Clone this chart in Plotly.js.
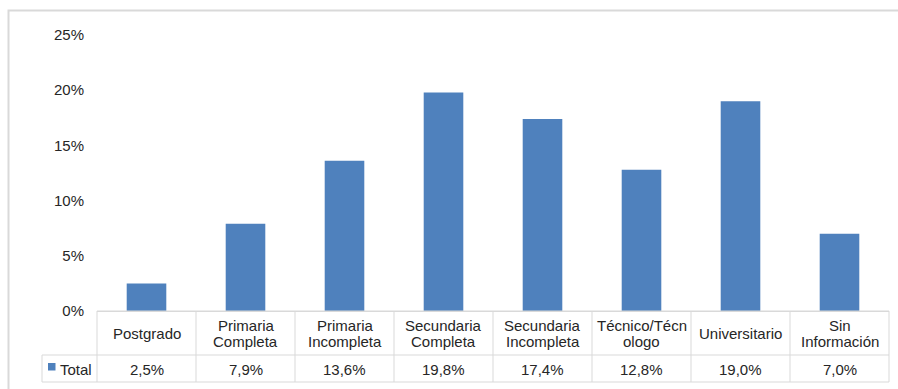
<!DOCTYPE html>
<html>
<head>
<meta charset="utf-8">
<script src="https://cdn.plot.ly/plotly-3.0.1.min.js"></script>
<style>
html,body{margin:0;padding:0;background:#fff;}
#chart{width:898px;height:389px;}
</style>
</head>
<body>
<div id="chart"></div>
<script>
// ---- data ----
const categories = ["Postgrado", "Primaria<br>Completa", "Primaria<br>Incompleta", "Secundaria<br>Completa",
  "Secundaria<br>Incompleta", "Técnico/Técn<br>ologo", "Universitario", "Sin<br>Información"];
const values = [0.025, 0.079, 0.136, 0.198, 0.174, 0.128, 0.190, 0.070];
const seriesName = "Total";
const yTickVals = [0, 0.05, 0.10, 0.15, 0.20, 0.25];
const yTickText = ["0%", "5%", "10%", "15%", "20%", "25%"];

// ---- layout helpers ----
const W = 898, H = 389;
const M = {l: 97, r: 9, t: 35, b: 78};
const PW = W - M.l - M.r, PH = H - M.t - M.b;
const px2x = p => (p - M.l) / PW;
const py2y = p => (H - M.b - p) / PH;
const font = "Liberation Sans, Arial, sans-serif";
const txtColor = "#262626";
const gridC = "#D9D9D9";
const barColor = "#4F81BD";
const fmt = v => (v * 100).toFixed(1).replace('.', ',') + '%';

const n = categories.length;
const shapes = [];
const annotations = [];

// outer border
shapes.push({type: 'rect', xref: 'paper', yref: 'paper', x0: px2x(8.5), x1: px2x(905), y0: py2y(395), y1: py2y(10.5),
  line: {color: gridC, width: 2}, fillcolor: 'rgba(0,0,0,0)'});

// table lines
const rowTop = 311, rowMid = 355, rowBot = 382, legLeft = 42;
[[M.l, rowTop], [legLeft, rowMid], [legLeft, rowBot]].forEach(([x0, y]) => {
  shapes.push({type: 'line', xref: 'paper', yref: 'paper', x0: px2x(x0), x1: 1, y0: py2y(y), y1: py2y(y),
    line: {color: gridC, width: 1}});
});
for (let i = 0; i <= n; i++) {
  shapes.push({type: 'line', xref: 'paper', yref: 'paper', x0: i / n, x1: i / n, y0: py2y(rowTop), y1: py2y(rowBot),
    line: {color: gridC, width: 1}});
}
shapes.push({type: 'line', xref: 'paper', yref: 'paper', x0: px2x(legLeft), x1: px2x(legLeft), y0: py2y(rowMid), y1: py2y(rowBot),
  line: {color: gridC, width: 1}});
// legend key
shapes.push({type: 'rect', xref: 'paper', yref: 'paper', x0: px2x(48), x1: px2x(55.5), y0: py2y(370.5), y1: py2y(363),
  line: {width: 0}, fillcolor: barColor});
annotations.push({xref: 'paper', yref: 'paper', x: px2x(57.5), y: py2y(369.5), xanchor: 'left', yanchor: 'middle',
  text: seriesName, showarrow: false, font: {family: font, size: 15, color: txtColor}});

// category labels and values
categories.forEach((c, i) => {
  const lines = c.split('<br>');
  const ys = lines.length === 1 ? [333] : [325, 341.5];
  lines.forEach((ln, k) => {
    annotations.push({xref: 'x', yref: 'paper', x: c, y: py2y(ys[k]), xanchor: 'center', yanchor: 'middle',
      text: ln, showarrow: false, font: {family: font, size: 15, color: txtColor}});
  });
  annotations.push({xref: 'x', yref: 'paper', x: c, y: py2y(369.5), xanchor: 'center', yanchor: 'middle',
    text: fmt(values[i]), showarrow: false, font: {family: font, size: 15, color: txtColor}});
});

const trace = {type: 'bar', x: categories, y: values, name: seriesName, marker: {color: barColor, line: {width: 0}},
  showlegend: false, hoverinfo: 'none'};

const layout = {
  width: W, height: H,
  margin: M,
  paper_bgcolor: '#fff', plot_bgcolor: '#fff',
  bargap: 0.6,
  showlegend: false,
  xaxis: {type: 'category', showticklabels: false, ticks: '', showgrid: false, zeroline: false,
    showline: true, linecolor: gridC, linewidth: 1, range: [-0.5, n - 0.5], fixedrange: true},
  yaxis: {range: [0, 0.25], tickvals: yTickVals, ticktext: yTickText, showgrid: false, zeroline: false,
    showline: false, ticks: '', ticklabelstandoff: 12, tickfont: {family: font, size: 15, color: txtColor}, fixedrange: true},
  shapes: shapes,
  annotations: annotations
};

Plotly.newPlot('chart', [trace], layout, {staticPlot: true, displayModeBar: false});
</script>
</body>
</html>
